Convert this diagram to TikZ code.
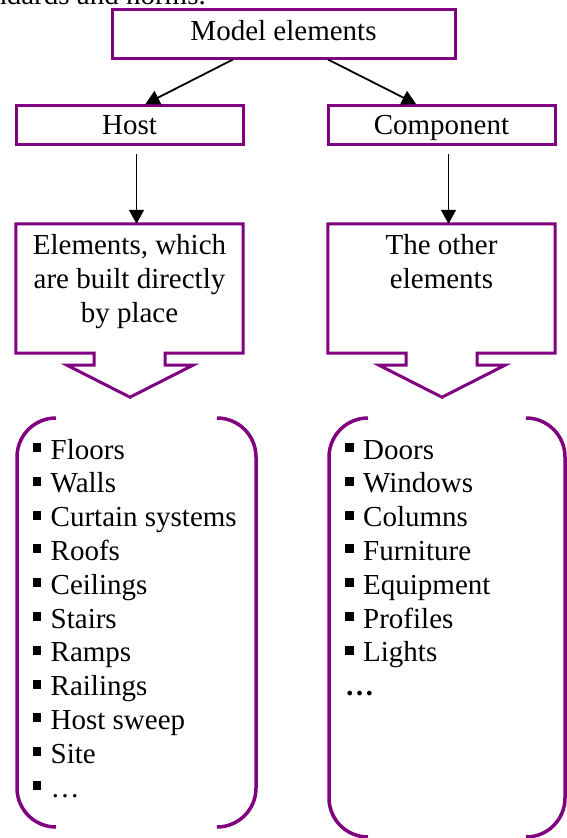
\documentclass[tikz,border=0pt]{standalone}
\usepackage{fontspec}
\setmainfont{Liberation Serif}
\usetikzlibrary{arrows.meta,calc}
\definecolor{mpurple}{HTML}{800080}
\newcommand{\bul}{\rule[7pt]{8.5pt}{9pt}\hspace{9.5pt}}
\begin{document}
\begin{tikzpicture}[x=1pt,y=-1pt,
  font=\fontsize{29}{34}\selectfont,
  box/.style={draw=mpurple, line width=3pt, minimum width=227pt, minimum height=39pt,
    inner sep=0pt, text height=19.2pt, text depth=0pt},
  area/.style={minimum width=227pt, minimum height=129pt, inner sep=0pt},
  callout/.style={draw=mpurple, line width=3pt, line join=miter},
  brace/.style={draw=mpurple, line width=3.5pt, rounded corners=39pt},
  arr/.style={draw=black, line width=1.8pt, -{Triangle[length=14pt,width=15pt]}},
  txt/.style={anchor=base, inner sep=0pt},
  item/.style={anchor=base west, inner sep=0pt}]
\useasboundingbox (0,0) rectangle (566,838);

% cut-off line of text at the top
\node[anchor=base east, inner sep=0pt] (toptext) at (206,4) {standards and norms.};

% boxes
\node[box, minimum width=343pt, minimum height=49pt, text height=13pt] (model) at (283.5,33.5) {Model elements};
\node[box] (host) at (129.5,125) {Host};
\node[box] (comp) at (441.5,125) {Component};

\draw[arr] ($(model.south)+(-50.5,0)$) -- ($(host.north)+(16,0)$);
\draw[arr] ($(model.south)+(44.5,0)$) -- ($(comp.north)+(-25.5,0)$);

% callout areas
\node[area] (hbox) at (129.5,288.5) {};
\node[area] (cbox) at (441.5,288.5) {};

\foreach \b in {hbox,cbox}{
  \draw[callout] (\b.north west) -- (\b.north east) -- (\b.south east)
    -- ($(\b.south)+(35.5,0)$) -- ($(\b.south)+(35.5,12)$) -- ($(\b.south)+(63.5,12)$)
    -- ($(\b.south)+(0.5,44)$)
    -- ($(\b.south)+(-62.5,12)$) -- ($(\b.south)+(-35.5,12)$) -- ($(\b.south)+(-35.5,0)$)
    -- (\b.south west) -- cycle;
}

\draw[arr] ($(host.south)+(7,8)$) -- ($(hbox.north)+(7,0)$);
\draw[arr] ($(comp.south)+(7,8)$) -- ($(cbox.north)+(7,0)$);

\node[txt] (h1) at (129.5,254) {Elements, which};
\node[txt] (h2) at (129.5,288) {are built directly};
\node[txt] (h3) at (129.5,322) {by place};
\node[txt] (c1) at (441.5,254) {The other};
\node[txt] (c2) at (441.5,288) {elements};

% brackets
\draw[brace] (56,418) -- (17,418) -- (17,827) -- (56,827);
\draw[brace] (217,418) -- (256,418) -- (256,827) -- (217,827);
\draw[brace] (368,418) -- (329,418) -- (329,837) -- (368,837);
\draw[brace] (527,418) -- (565,418) -- (565,837) -- (527,837);

% left list
\node[item] (l1) at (32.5,459) {\bul Floors};
\node[item] (l2) at (32.5,492.8) {\bul Walls};
\node[item] (l3) at (32.5,526.6) {\bul Curtain systems};
\node[item] (l4) at (32.5,560.4) {\bul Roofs};
\node[item] (l5) at (32.5,594.2) {\bul Ceilings};
\node[item] (l6) at (32.5,628) {\bul Stairs};
\node[item] (l7) at (32.5,661.8) {\bul Ramps};
\node[item] (l8) at (32.5,695.6) {\bul Railings};
\node[item] (l9) at (32.5,729.4) {\bul Host sweep};
\node[item] (l10) at (32.5,763.2) {\bul Site};
\node[item] (l11) at (32.5,797) {\bul …};

% right list
\node[item] (r1) at (345,459) {\bul Doors};
\node[item] (r2) at (345,492.8) {\bul Windows};
\node[item] (r3) at (345,526.6) {\bul Columns};
\node[item] (r4) at (345,560.4) {\bul Furniture};
\node[item] (r5) at (345,594.2) {\bul Equipment};
\node[item] (r6) at (345,628) {\bul Profiles};
\node[item] (r7) at (345,661.8) {\bul Lights};
\node[item] (r8) at (345,695.6) {\textbf{…}};
\end{tikzpicture}
\end{document}
